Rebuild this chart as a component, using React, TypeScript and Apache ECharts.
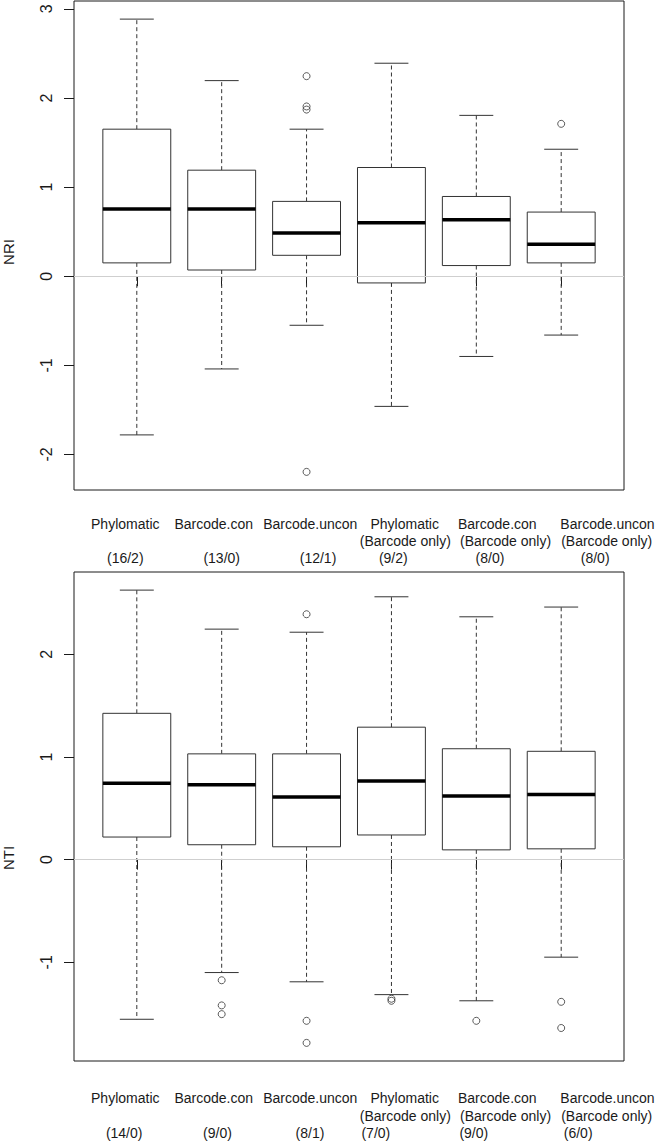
import React, { useEffect, useRef } from "react";
import * as echarts from "echarts";

// ---- Data ----
const categoryNames = [
  "Phylomatic",
  "Barcode.con",
  "Barcode.uncon",
  "Phylomatic",
  "Barcode.con",
  "Barcode.uncon",
];
const categoryQualifiers = ["", "", "", "(Barcode only)", "(Barcode only)", "(Barcode only)"];
const boxPositions = [1, 2, 3, 4, 5, 6];
const namePositions = [0.864, 1.906, 3.044, 4.156, 5.247, 6.545];
const qualifierPositions = [0.864, 1.906, 3.044, 4.163, 5.344, 6.536];

// NRI panel
const nriLow = [-1.78, -1.04, -0.55, -1.46, -0.9, -0.66];
const nriQ1 = [0.15, 0.07, 0.235, -0.075, 0.12, 0.15];
const nriMedian = [0.755, 0.755, 0.485, 0.6, 0.635, 0.36];
const nriQ3 = [1.65, 1.19, 0.84, 1.22, 0.895, 0.72];
const nriHigh = [2.885, 2.195, 1.65, 2.39, 1.805, 1.425];
const nriOutliers: [number, number][] = [
  [3, 2.245],
  [3, 1.905],
  [3, 1.87],
  [3, -2.195],
  [6, 1.71],
];
const nriTicks = [-2, -1, 0, 1, 2, 3];
const nriCounts = ["(16/2)", "(13/0)", "(12/1)", "(9/2)", "(8/0)", "(8/0)"];
const nriCountPositions = [0.864, 2.0, 3.135, 4.022, 5.161, 6.4];

// NTI panel
const ntiLow = [-1.555, -1.1, -1.19, -1.315, -1.375, -0.95];
const ntiQ1 = [0.22, 0.145, 0.125, 0.24, 0.095, 0.105];
const ntiMedian = [0.745, 0.73, 0.61, 0.765, 0.62, 0.635];
const ntiQ3 = [1.425, 1.03, 1.03, 1.29, 1.08, 1.055];
const ntiHigh = [2.625, 2.245, 2.215, 2.56, 2.365, 2.46];
const ntiOutliers: [number, number][] = [
  [2, -1.175],
  [2, -1.42],
  [2, -1.505],
  [3, 2.39],
  [3, -1.57],
  [3, -1.785],
  [4, -1.355],
  [4, -1.375],
  [5, -1.57],
  [6, -1.385],
  [6, -1.64],
];
const ntiTicks = [-1, 0, 1, 2];
const ntiCounts = ["(14/0)", "(9/0)", "(8/1)", "(7/0)", "(9/0)", "(6/0)"];
const ntiCountPositions = [0.851, 1.95, 3.04, 3.816, 4.97, 6.2];

// ---- Styling ----
const FONT = "'Liberation Sans', Arial, Helvetica, sans-serif";
const INK = "#1a1a1a";
const BOX_INK = "#333";
const BOXWEX = 0.8;

function rRange(vals: number[]) {
  const mn = Math.min(...vals);
  const mx = Math.max(...vals);
  const pad = (mx - mn) * 0.04;
  return [mn - pad, mx + pad];
}

const panels = [
  {
    title: "NRI",
    low: nriLow, q1: nriQ1, med: nriMedian, q3: nriQ3, high: nriHigh,
    outliers: nriOutliers, ticks: nriTicks,
    counts: nriCounts, countPos: nriCountPositions,
    grid: { left: 74, top: 1, width: 550, height: 489 },
    labelMargin: 25,
    qualifierY: 541,
    countY: 558,
    titleY: 252,
  },
  {
    title: "NTI",
    low: ntiLow, q1: ntiQ1, med: ntiMedian, q3: ntiQ3, high: ntiHigh,
    outliers: ntiOutliers, ticks: ntiTicks,
    counts: ntiCounts, countPos: ntiCountPositions,
    grid: { left: 74, top: 572, width: 550, height: 489 },
    labelMargin: 28,
    qualifierY: 1116,
    countY: 1133,
    titleY: 858,
  },
];

function buildOption() {
  const grids: any[] = [];
  const xAxes: any[] = [];
  const yAxes: any[] = [];
  const series: any[] = [];
  const xMin = 0.5 - 0.04 * boxPositions.length;
  const xMax = boxPositions.length + 0.5 + 0.04 * boxPositions.length;

  panels.forEach((p, gi) => {
    const allVals = [...p.low, ...p.high, ...p.outliers.map((o) => o[1])];
    const [yMin, yMax] = rRange(allVals);
    grids.push({
      ...p.grid,
      show: true,
      borderColor: INK,
      borderWidth: 1,
      backgroundColor: "transparent",
      containLabel: false,
      outerBoundsMode: "none",
    });
    xAxes.push({
      type: "value",
      gridIndex: gi,
      min: xMin,
      max: xMax,
      position: "bottom",
      axisLine: { show: false },
      splitLine: { show: false },
      axisTick: {
        show: true,
        length: 10,
        customValues: boxPositions,
        lineStyle: { color: INK, width: 1 },
      },
      axisLabel: {
        show: true,
        customValues: namePositions,
        margin: p.labelMargin,
        fontSize: 14,
        lineHeight: 18,
        fontFamily: FONT,
        color: INK,
        align: "center",
        formatter: (v: number) => {
          const i = namePositions.findIndex((lp) => Math.abs(lp - v) < 1e-6);
          return i >= 0 ? categoryNames[i] : "";
        },
      },
    });
    yAxes.push({
      type: "value",
      gridIndex: gi,
      min: yMin,
      max: yMax,
      axisLine: { show: false },
      splitLine: { show: false },
      axisTick: {
        show: true,
        length: 10,
        customValues: p.ticks,
        lineStyle: { color: INK, width: 1 },
      },
      axisLabel: {
        show: true,
        customValues: p.ticks,
        rotate: 90,
        margin: 20,
        fontSize: 16,
        fontFamily: FONT,
        color: INK,
        formatter: (v: number) => String(Math.round(v)),
      },
    });

    const boxData = boxPositions.map((x, i) => [x, p.low[i], p.q1[i], p.med[i], p.q3[i], p.high[i]]);
    series.push({
      type: "custom",
      xAxisIndex: gi,
      yAxisIndex: gi,
      silent: true,
      z: 2,
      encode: { x: 0, y: [1, 2, 3, 4, 5] },
      data: boxData,
      renderItem: (params: any, api: any) => {
        const x = api.value(0);
        const lo = api.value(1);
        const q1 = api.value(2);
        const md = api.value(3);
        const q3 = api.value(4);
        const hi = api.value(5);
        const [cx, yLo] = api.coord([x, lo]);
        const [, yQ1] = api.coord([x, q1]);
        const [, yMd] = api.coord([x, md]);
        const [, yQ3] = api.coord([x, q3]);
        const [, yHi] = api.coord([x, hi]);
        const [xL] = api.coord([x - BOXWEX / 2, md]);
        const [xR] = api.coord([x + BOXWEX / 2, md]);
        const [cL] = api.coord([x - BOXWEX / 4, md]);
        const [cR] = api.coord([x + BOXWEX / 4, md]);
        const dashed = { stroke: BOX_INK, lineWidth: 1, lineDash: [4, 3], fill: null };
        const solid = { stroke: BOX_INK, lineWidth: 1, fill: null };
        return {
          type: "group",
          children: [
            { type: "line", shape: { x1: cx, y1: yQ3, x2: cx, y2: yHi }, style: dashed },
            { type: "line", shape: { x1: cx, y1: yQ1, x2: cx, y2: yLo }, style: dashed },
            { type: "line", shape: { x1: cL, y1: yHi, x2: cR, y2: yHi }, style: solid },
            { type: "line", shape: { x1: cL, y1: yLo, x2: cR, y2: yLo }, style: solid },
            {
              type: "rect",
              shape: { x: xL, y: yQ3, width: xR - xL, height: yQ1 - yQ3 },
              style: { fill: "#fff", stroke: BOX_INK, lineWidth: 1 },
            },
            {
              type: "line",
              shape: { x1: xL, y1: yMd, x2: xR, y2: yMd },
              style: { stroke: "#000", lineWidth: 3.5, fill: null },
            },
          ],
        };
      },
    });
    series.push({
      type: "scatter",
      xAxisIndex: gi,
      yAxisIndex: gi,
      silent: true,
      clip: false,
      z: 3,
      symbol: "circle",
      symbolSize: 7,
      itemStyle: { color: "rgba(0,0,0,0)", borderColor: BOX_INK, borderWidth: 1 },
      data: p.outliers,
    });
    series.push({
      type: "line",
      xAxisIndex: gi,
      yAxisIndex: gi,
      silent: true,
      z: 4,
      data: [],
      markLine: {
        silent: true,
        symbol: "none",
        label: { show: false },
        lineStyle: { color: "#cfcfcf", type: "solid", width: 1 },
        data: [{ yAxis: 0 }],
      },
    });
  });

  return {
    animation: false,
    backgroundColor: "#fff",
    tooltip: { show: false },
    grid: grids,
    xAxis: xAxes,
    yAxis: yAxes,
    series,
  };
}

export default function App() {
  const ref = useRef<HTMLDivElement>(null);
  useEffect(() => {
    document.body.style.margin = "0";
    const chart = echarts.init(ref.current!, null, { renderer: "svg" });
    chart.setOption(buildOption() as any);
    const graphics: any[] = [];
    const textStyle = (text: string, size: number) => ({
      text,
      fontSize: size,
      fontFamily: FONT,
      fill: INK,
      align: "center",
      verticalAlign: "middle",
    });
    panels.forEach((p, gi) => {
      qualifierPositions.forEach((v, i) => {
        if (!categoryQualifiers[i]) return;
        const px = chart.convertToPixel({ xAxisIndex: gi } as any, v) as number;
        graphics.push({
          type: "text",
          x: px,
          y: p.qualifierY,
          silent: true,
          style: textStyle(categoryQualifiers[i], 14),
        });
      });
      p.countPos.forEach((v, i) => {
        const px = chart.convertToPixel({ xAxisIndex: gi } as any, v) as number;
        graphics.push({
          type: "text",
          x: px,
          y: p.countY,
          silent: true,
          style: textStyle(p.counts[i], 14),
        });
      });
      graphics.push({
        type: "text",
        x: 8,
        y: p.titleY,
        rotation: Math.PI / 2,
        silent: true,
        style: textStyle(p.title, 15),
      });
    });
    chart.setOption({ graphic: graphics });
    return () => chart.dispose();
  }, []);
  return <div ref={ref} style={{ width: 656, height: 1141 }} />;
}
